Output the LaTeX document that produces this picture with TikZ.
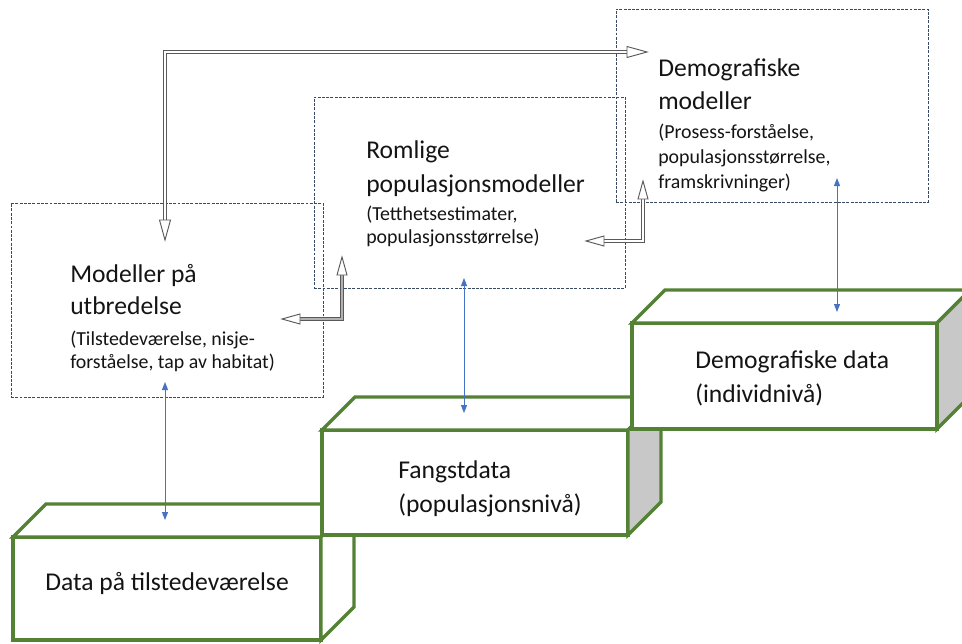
\documentclass[tikz,border=0pt]{standalone}
\usepackage{fontspec}
\setmainfont{Carlito}
\usetikzlibrary{arrows.meta,calc}
\definecolor{grn}{HTML}{548235}
\definecolor{blu}{HTML}{4472C4}
\definecolor{dsh}{HTML}{3B4A63}
\definecolor{side}{HTML}{C8C8C8}
\definecolor{conn}{HTML}{595959}
\definecolor{txt}{HTML}{141414}
\begin{document}
\begin{tikzpicture}[x=0.75pt,y=-0.75pt,
  modelbox/.style={draw=dsh, line width=0.65pt, dash pattern=on 2.2pt off 1pt, inner sep=0pt, outer sep=0pt},
  frontface/.style={draw=grn, line width=2.6pt, fill=white, inner sep=0pt, outer sep=0pt},
  face/.style={draw=grn, line width=2.6pt, fill=white, line join=miter},
  sideface/.style={face, fill=side},
  big/.style={anchor=base west, inner sep=0pt, font=\fontsize{19.2}{23}\selectfont, text=txt},
  small/.style={anchor=base west, inner sep=0pt, font=\fontsize{14.9}{18}\selectfont, text=txt},
  bluearrow/.style={draw=blu, line width=0.75pt, {Triangle[length=6pt,width=4.5pt]}-{Triangle[length=6pt,width=4.5pt]}},
  dbl/.style={draw=conn, line width=0.7pt, double=white, double distance=1.6pt},
  dblg/.style={draw=conn, line width=0.7pt, double=gray!60, double distance=1.6pt},
  head/.style={draw=conn, line width=0.7pt, fill=white, line join=miter},
]
\useasboundingbox (0,0) rectangle (962,643);
\clip (0,0) rectangle (962,643);
\fill[white] (0,0) rectangle (962,643);

% ---- 3D data boxes ----
\node[frontface, minimum width=231pt, minimum height=77.25pt] (d1) at (167,588.5) {};
\draw[face] (d1.north west) -- ++(33,-33) -- ($(d1.north east)+(33,-33)$) -- (d1.north east) -- cycle;
\draw[face] (d1.north east) -- ++(33,-33) -- ($(d1.south east)+(33,-33)$) -- (d1.south east) -- cycle;

\node[frontface, minimum width=229.5pt, minimum height=78.75pt] (d2) at (475,482.5) {};
\draw[face] (d2.north west) -- ++(33,-33) -- ($(d2.north east)+(33,-33)$) -- (d2.north east) -- cycle;
\draw[sideface] (d2.north east) -- ++(33,-33) -- ($(d2.south east)+(33,-33)$) -- (d2.south east) -- cycle;

\node[frontface, minimum width=228.75pt, minimum height=79.5pt] (d3) at (784.5,376) {};
\draw[face] (d3.north west) -- ++(33,-33) -- ($(d3.north east)+(33,-33)$) -- (d3.north east) -- cycle;
\draw[sideface] (d3.north east) -- ++(33,-33) -- ($(d3.south east)+(33,-33)$) -- (d3.south east) -- cycle;

\node[big] (t1) at (45,590) {Data på tilstedeværelse};
\node[big] (t2a) at (398,478) {Fangstdata};
\node[big] (t2b) at (398,512) {(populasjonsnivå)};
\node[big] (t3a) at (695,368) {Demografiske data};
\node[big] (t3b) at (695,402) {(individnivå)};

% ---- model boxes ----
\node[modelbox, minimum width=234pt, minimum height=145.5pt] (mA) at (167,300) {};
\node[modelbox, minimum width=233.25pt, minimum height=143.25pt] (mB) at (469.5,192.5) {};
\node[modelbox, minimum width=234pt, minimum height=144.75pt] (mC) at (772,105.5) {};

\node[big] (a1) at (70,282) {Modeller på};
\node[big] (a2) at (70,314) {utbredelse};
\node[small] (a3) at (70,345) {(Tilstedeværelse, nisje-};
\node[small] (a4) at (70,368) {forståelse, tap av habitat)};

\node[big] (b1) at (366,158) {Romlige};
\node[big] (b2) at (366,192) {populasjonsmodeller};
\node[small] (b3) at (366,220) {(Tetthetsestimater,};
\node[small] (b4) at (366,243) {populasjonsstørrelse)};

\node[big] (c1) at (658,76) {Demografiske};
\node[big] (c2) at (658,109) {modeller};
\node[small] (c3) at (658,138) {(Prosess-forståelse,};
\node[small] (c4) at (658,163) {populasjonsstørrelse,};
\node[small] (c5) at (658,188) {framskrivninger)};

% ---- blue arrows ----
\coordinate (bA1) at (165,382); \coordinate (bA2) at (165,520);
\coordinate (bB1) at (464,278); \coordinate (bB2) at (464,413);
\coordinate (bC1) at (837,178); \coordinate (bC2) at (837,312);
\draw[bluearrow] (bA1) -- (bA2);
\draw[bluearrow] (bB1) -- (bB2);
\draw[bluearrow] (bC1) -- (bC2);

% ---- double connectors ----
\coordinate (p1) at (165,240); \coordinate (p1b) at (165,220);
\coordinate (p2) at (647,52);  \coordinate (p2b) at (627,52);
\draw[dbl] (p1b) |- (p2b);
\draw[head] (p1) -- ++(-5.5,-20) -- ++(11,0) -- cycle;
\draw[head] (p2) -- ++(-20,-5.5) -- ++(0,11) -- cycle;

\coordinate (q1) at (282,319); \coordinate (q1b) at (300,319);
\coordinate (q2) at (342,257); \coordinate (q2b) at (342,275);
\draw[dblg] (q1b) -| (q2b);
\draw[head] (q1) -- ++(18,-5) -- ++(0,10) -- cycle;
\draw[head] (q2) -- ++(-5,18) -- ++(10,0) -- cycle;

\coordinate (r1) at (586,241); \coordinate (r1b) at (604,241);
\coordinate (r2) at (643,181); \coordinate (r2b) at (643,199);
\draw[dbl] (r1b) -| (r2b);
\draw[head] (r1) -- ++(18,-5) -- ++(0,10) -- cycle;
\draw[head] (r2) -- ++(-5,18) -- ++(10,0) -- cycle;
\end{tikzpicture}
\end{document}
